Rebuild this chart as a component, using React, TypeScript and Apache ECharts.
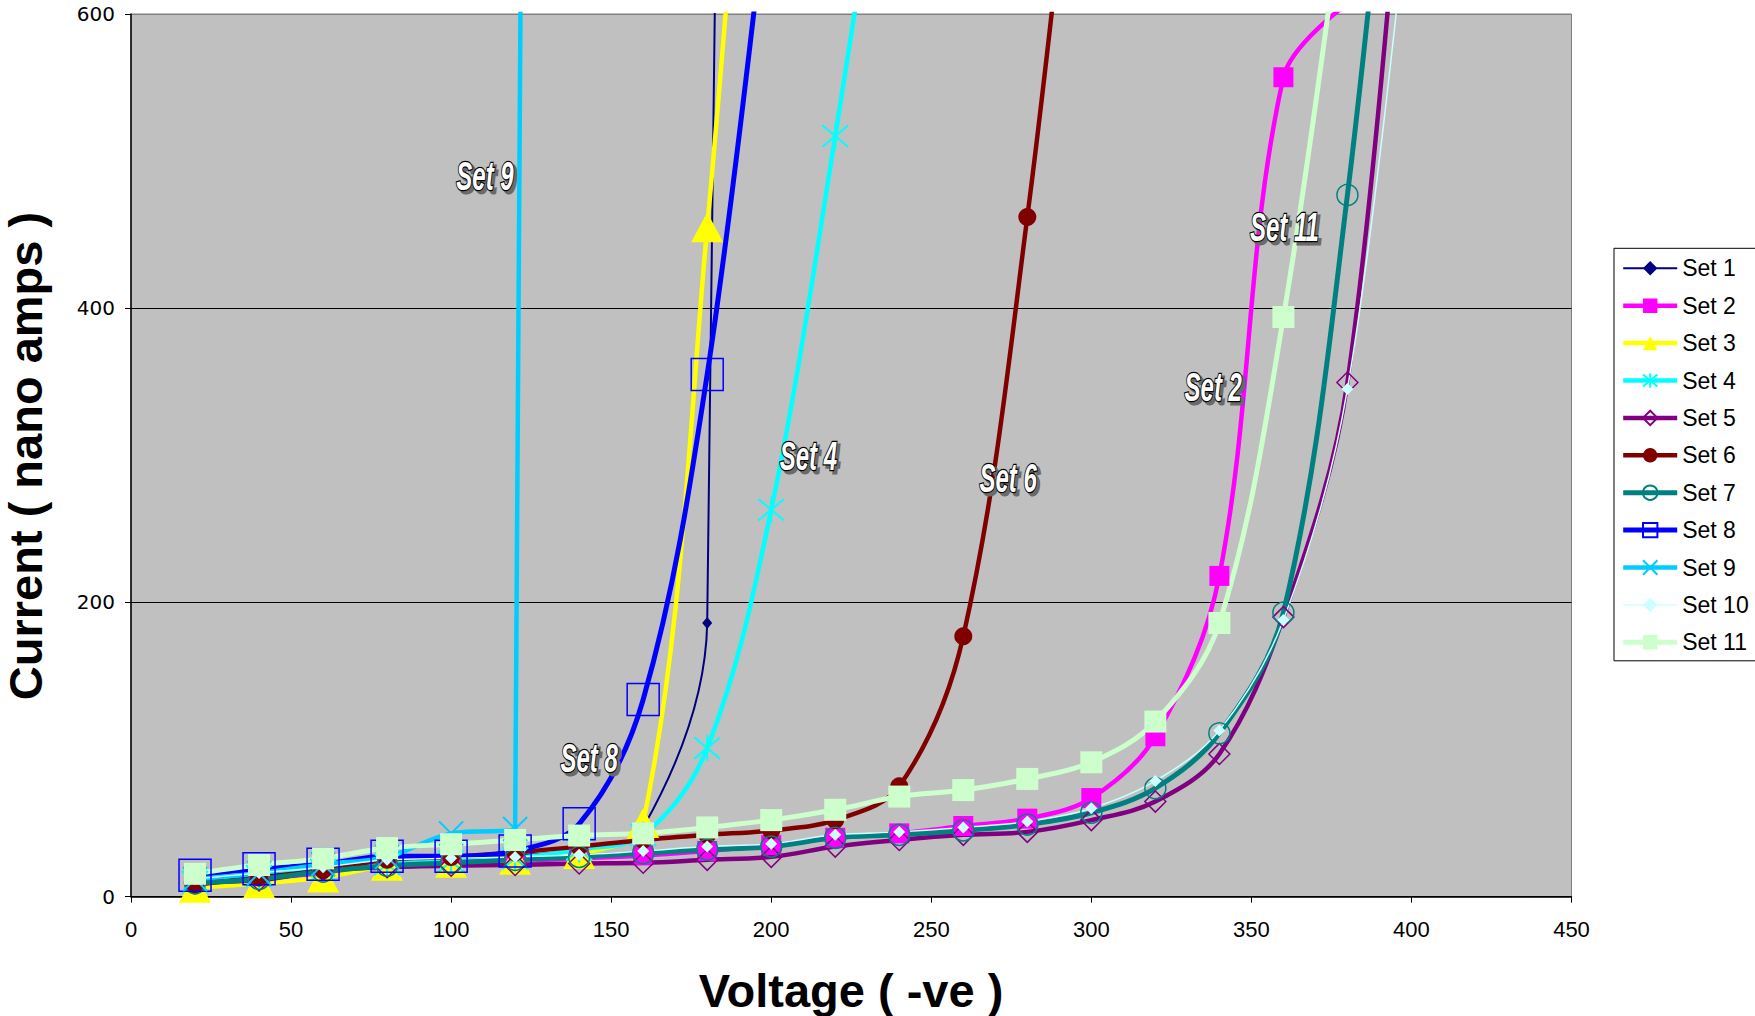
import React, { useEffect, useRef } from 'react';
import * as echarts from 'echarts';

// ---- data ----
const voltages = [20, 40, 60, 80, 100, 120, 140, 160, 180, 200, 220, 240, 260, 280, 300, 320, 340, 360, 380, 400];
const xTicks = [0, 50, 100, 150, 200, 250, 300, 350, 400, 450];
const yTicks = [0, 200, 400, 600];

const set1 = [10, 14, 18, 22, 25, 28, 32, 47, 186, 5000];
const set2 = [8, 12, 16, 20, 22, 24, 26, 28, 31, 35, 40, 43, 48, 53, 67, 109, 218, 557, 607];
const set3 = [6, 9, 13, 21, 23, 25, 29, 50, 455, 1000];
const set4 = [10, 14, 18, 22, 24, 26, 32, 42, 101, 263, 517, 800];
const set5 = [10, 11, 18, 20, 21, 21.5, 22.5, 23, 25, 27, 34, 38.5, 42, 44, 52, 64.6, 97, 190, 349.5, 800];
const set6 = [8, 13, 18, 25, 27, 30, 34, 38.5, 42, 45, 52, 75, 177, 462, 850];
const set7 = [9, 12, 17, 21, 23, 25, 27, 29.5, 32, 34, 40, 42, 45, 49, 57, 73.7, 111, 193, 477, 900];
const set8 = [14.5, 19, 22, 27.5, 27.5, 31, 49.5, 134, 355, 705];
const set9 = [12, 16, 22, 27, 43, 46, 10000];
const set10 = [12, 16, 20, 25, 26, 27, 28.5, 31, 34, 36, 42, 44, 47, 51, 60, 78.6, 113, 188, 345, 700];
const set11 = [15.5, 21.5, 26, 33, 35.6, 38.5, 41.5, 43, 47, 52, 59, 68, 72.4, 80, 91.3, 119, 186, 394, 700];

const seriesNames = ['Set 1', 'Set 2', 'Set 3', 'Set 4', 'Set 5', 'Set 6', 'Set 7', 'Set 8', 'Set 9', 'Set 10', 'Set 11'];
const seriesValues = [set1, set2, set3, set4, set5, set6, set7, set8, set9, set10, set11];

// annotation labels (data coordinates)
const noteLabels = ['Set 9', 'Set 4', 'Set 6', 'Set 11', 'Set 2', 'Set 8'];
const noteX = [110.6, 211.6, 274, 360.3, 338.1, 143.1];
const noteY = [489.5, 299.7, 284.7, 455.4, 346.6, 94.3];

// ---- styles ----
const ASTERISK = 'path://M0,0L10,10M10,0L0,10M5,-1L5,11';
const CROSS = 'path://M0,0L10,10M10,0L0,10';
const styles = [
  { color: '#000080', width: 2, symbol: 'diamond', size: [10, 12], fill: true },
  { color: '#FF00FF', width: 4.5, symbol: 'rect', size: 20, fill: true },
  { color: '#FFFF00', width: 4.5, symbol: 'triangle', size: [32, 30], fill: true },
  { color: '#00FFFF', width: 4.5, symbol: ASTERISK, size: 26, fill: false, bw: 2 },
  { color: '#800080', width: 4.5, symbol: 'diamond', size: 21, fill: false, bw: 1.5 },
  { color: '#800000', width: 4.5, symbol: 'circle', size: 18, fill: true },
  { color: '#008080', width: 5, symbol: 'circle', size: 21, fill: false, bw: 1.5 },
  { color: '#0000FF', width: 5, symbol: 'rect', size: 32, fill: false, bw: 1.5 },
  { color: '#00CCFF', width: 4.5, symbol: CROSS, size: 24, fill: false, bw: 2 },
  { color: '#CCFFFF', width: 1.5, symbol: 'diamond', size: 12, fill: true },
  { color: '#CCFFCC', width: 5, symbol: 'rect', size: 22, fill: true },
];

const GRID = { left: 131, right: 183.5, top: 14, bottom: 119.4 };
const SANS = '"Liberation Sans", Arial, sans-serif';
const NARROW = '"Liberation Sans Narrow", "Arial Narrow", "Liberation Sans", sans-serif';

export default function App() {
  const ref = useRef<HTMLDivElement>(null);
  useEffect(() => {
    const el = ref.current!;
    const chart = echarts.init(el, null, { renderer: 'svg' });

    const series: any[] = seriesNames.map((name, i) => {
      const st: any = styles[i];
      const data = seriesValues[i].map((v, k) => [voltages[k], v]);
      return {
        name,
        type: 'line',
        data,
        smooth: 0.35,
        symbol: st.symbol,
        symbolSize: st.size,
        showSymbol: true,
        clip: true,
        lineStyle: { color: st.color, width: st.width },
        itemStyle: st.fill
          ? { color: st.color, borderColor: st.color, borderWidth: 0 }
          : { color: 'rgba(0,0,0,0)', borderColor: st.color, borderWidth: st.bw },
        emphasis: { disabled: true },
      };
    });

    chart.setOption({
      animation: false,
      backgroundColor: '#ffffff',
      grid: { ...GRID, show: true, backgroundColor: '#C0C0C0', borderColor: '#808080', borderWidth: 1 },
      xAxis: {
        type: 'value',
        min: xTicks[0],
        max: xTicks[xTicks.length - 1],
        interval: 50,
        axisLine: { lineStyle: { color: '#000', width: 1.5 } },
        axisTick: { show: true, length: 6, lineStyle: { color: '#000' } },
        splitLine: { show: false },
        axisLabel: { color: '#000', fontFamily: NARROW, fontSize: 22, margin: 22 },
      },
      yAxis: {
        type: 'value',
        min: yTicks[0],
        max: yTicks[yTicks.length - 1],
        interval: 200,
        axisLine: { show: true, lineStyle: { color: '#000', width: 1.5 } },
        axisTick: { show: true, length: 6, lineStyle: { color: '#000' } },
        splitLine: { show: true, lineStyle: { color: ['#000', '#000', '#000', '#808080'], width: 1 } },
        axisLabel: { color: '#000', fontFamily: '"DejaVu Sans", sans-serif', fontSize: 20, margin: 16 },
      },
      legend: {
        data: seriesNames,
        orient: 'vertical',
        left: 1614,
        top: 248.3,
        padding: [8.5, 14, 7, 6.7],
        itemWidth: 54,
        itemHeight: 18,
        itemGap: 14.4,
        backgroundColor: '#ffffff',
        borderColor: '#000',
        borderWidth: 1,
        lineStyle: { width: 'inherit' },
        textStyle: { color: '#000', fontFamily: SANS, fontSize: 23 },
      },
      series,
    });

    const gfx: any[] = [
      {
        type: 'text',
        x: 851,
        y: 990,
        style: {
          text: 'Voltage ( -ve )',
          fontFamily: SANS,
          fontWeight: 'bold',
          fontSize: 47,
          fill: '#000',
          align: 'center',
          verticalAlign: 'middle',
        },
      },
      {
        type: 'text',
        x: 25,
        y: 456,
        rotation: Math.PI / 2,
        style: {
          text: 'Current ( nano amps )',
          fontFamily: SANS,
          fontWeight: 'bold',
          fontSize: 47,
          fill: '#000',
          align: 'center',
          verticalAlign: 'middle',
        },
      },
    ];
    noteLabels.forEach((t, i) => {
      const p = chart.convertToPixel({ gridIndex: 0 }, [noteX[i], noteY[i]]) as number[];
      const base = {
        text: t,
        fontFamily: SANS,
        fontWeight: 'bold',
        fontStyle: 'italic',
        fontSize: 40,
        align: 'center',
        verticalAlign: 'middle',
      };
      gfx.push({
        type: 'text',
        x: p[0] + 3,
        y: p[1] + 3,
        scaleX: 0.6,
        z: 50,
        style: { ...base, fill: '#6a6a6a', stroke: '#6a6a6a', lineWidth: 3 },
      });
      gfx.push({
        type: 'text',
        x: p[0],
        y: p[1],
        scaleX: 0.6,
        z: 51,
        style: { ...base, fill: '#ffffff', stroke: '#000000', lineWidth: 2.5, strokeFirst: true },
      });
    });
    chart.setOption({ graphic: gfx });

    return () => chart.dispose();
  }, []);
  return (
    <div
      ref={ref}
      style={{ position: 'fixed', left: 0, top: 0, width: 1755, height: 1016, background: '#fff' }}
    />
  );
}
